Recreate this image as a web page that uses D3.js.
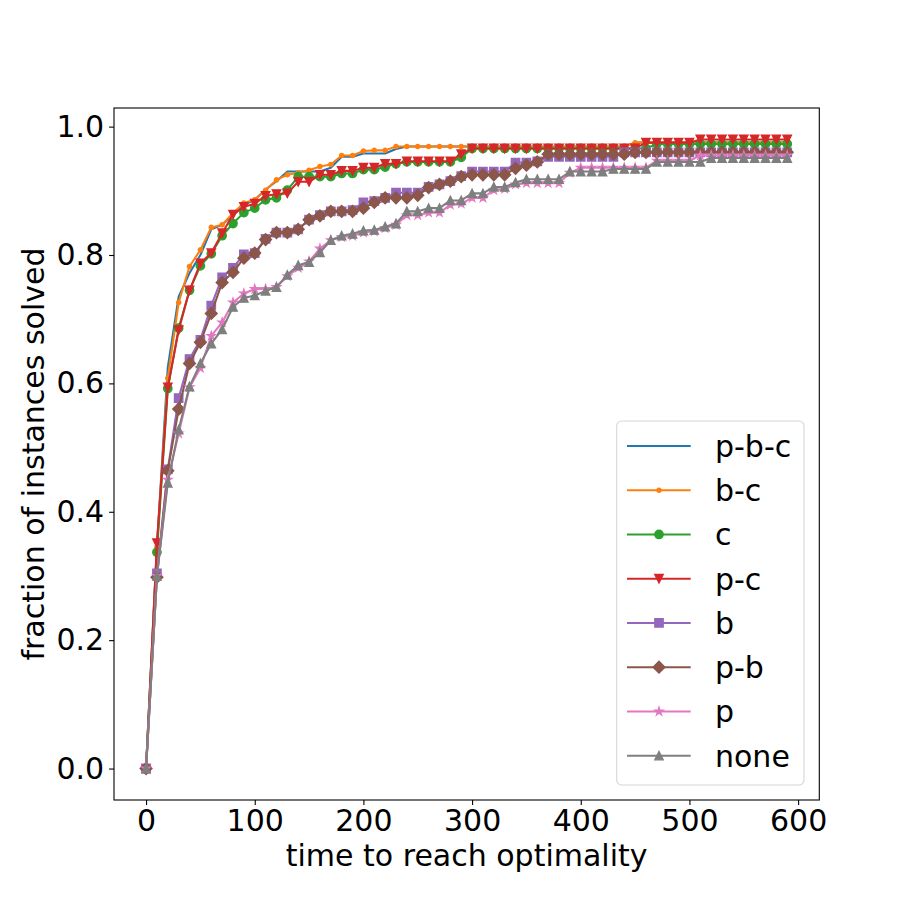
<!DOCTYPE html>
<html>
<head>
<meta charset="utf-8">
<script src="https://cdn.jsdelivr.net/npm/d3@7"></script>
<style>
  body { margin: 0; background: #fff; }
  text { font-family: "DejaVu Sans", sans-serif; }
</style>
</head>
<body>
<div id="myChart"></div>
<script>
let svgW = 910;
let svgH = 899;

// time points (x)
const times = [
  0, 10, 20, 30, 40, 50, 60, 70, 80, 90,
  100, 110, 120, 130, 140, 150, 160, 170, 180, 190,
  200, 210, 220, 230, 240, 250, 260, 270, 280, 290,
  300, 310, 320, 330, 340, 350, 360, 370, 380, 390,
  400, 410, 420, 430, 440, 450, 460, 470, 480, 490,
  500, 510, 520, 530, 540, 550, 560, 570, 580, 590
];

const pbc = [
  0, 0.345, 0.625, 0.735, 0.772, 0.800, 0.840, 0.847, 0.862, 0.878,
  0.886, 0.902, 0.915, 0.930, 0.930, 0.930, 0.930, 0.936, 0.953, 0.953,
  0.958, 0.958, 0.958, 0.965, 0.969, 0.969, 0.969, 0.969, 0.969, 0.969,
  0.969, 0.969, 0.969, 0.969, 0.969, 0.969, 0.969, 0.969, 0.969, 0.969,
  0.969, 0.969, 0.969, 0.969, 0.969, 0.975, 0.975, 0.975, 0.975, 0.975,
  0.975, 0.975, 0.975, 0.975, 0.975, 0.975, 0.975, 0.975, 0.975, 0.975
];
const bc = [
  0, 0.345, 0.608, 0.726, 0.782, 0.808, 0.843, 0.847, 0.865, 0.881,
  0.886, 0.901, 0.917, 0.925, 0.928, 0.932, 0.938, 0.941, 0.955, 0.955,
  0.962, 0.963, 0.963, 0.969, 0.969, 0.969, 0.969, 0.969, 0.969, 0.969,
  0.969, 0.969, 0.969, 0.969, 0.969, 0.969, 0.969, 0.969, 0.969, 0.969,
  0.969, 0.969, 0.969, 0.969, 0.969, 0.975, 0.975, 0.975, 0.975, 0.975,
  0.975, 0.975, 0.975, 0.975, 0.975, 0.975, 0.975, 0.975, 0.975, 0.975
];
const c = [
  0, 0.337, 0.592, 0.686, 0.745, 0.783, 0.802, 0.830, 0.849, 0.866,
  0.873, 0.886, 0.889, 0.901, 0.922, 0.922, 0.922, 0.922, 0.927, 0.927,
  0.933, 0.933, 0.937, 0.942, 0.945, 0.945, 0.945, 0.945, 0.945, 0.952,
  0.966, 0.966, 0.966, 0.966, 0.966, 0.966, 0.966, 0.966, 0.966, 0.966,
  0.966, 0.966, 0.966, 0.966, 0.966, 0.966, 0.966, 0.973, 0.973, 0.973,
  0.973, 0.973, 0.973, 0.973, 0.973, 0.973, 0.973, 0.973, 0.973, 0.973
];
const pc = [
  0, 0.351, 0.594, 0.683, 0.745, 0.787, 0.803, 0.834, 0.863, 0.875,
  0.880, 0.892, 0.895, 0.896, 0.914, 0.914, 0.925, 0.925, 0.931, 0.931,
  0.936, 0.936, 0.942, 0.942, 0.946, 0.946, 0.946, 0.946, 0.946, 0.957,
  0.966, 0.966, 0.966, 0.966, 0.966, 0.966, 0.966, 0.966, 0.966, 0.966,
  0.966, 0.966, 0.966, 0.966, 0.966, 0.966, 0.975, 0.975, 0.975, 0.975,
  0.975, 0.980, 0.980, 0.980, 0.980, 0.980, 0.980, 0.980, 0.980, 0.980
];
const b = [
  0, 0.304, 0.466, 0.577, 0.638, 0.668, 0.721, 0.765, 0.780, 0.801,
  0.803, 0.825, 0.835, 0.835, 0.840, 0.855, 0.862, 0.868, 0.868, 0.870,
  0.882, 0.884, 0.889, 0.897, 0.897, 0.897, 0.906, 0.910, 0.915, 0.923,
  0.930, 0.930, 0.930, 0.930, 0.944, 0.944, 0.946, 0.953, 0.953, 0.953,
  0.953, 0.953, 0.953, 0.953, 0.960, 0.960, 0.960, 0.960, 0.960, 0.960,
  0.960, 0.960, 0.960, 0.960, 0.960, 0.960, 0.960, 0.960, 0.960, 0.960
];
const pb = [
  0, 0.298, 0.464, 0.560, 0.631, 0.664, 0.709, 0.757, 0.773, 0.795,
  0.803, 0.824, 0.835, 0.835, 0.840, 0.855, 0.861, 0.868, 0.868, 0.868,
  0.873, 0.882, 0.889, 0.889, 0.889, 0.893, 0.905, 0.910, 0.915, 0.922,
  0.925, 0.925, 0.925, 0.925, 0.935, 0.940, 0.945, 0.957, 0.957, 0.957,
  0.957, 0.957, 0.957, 0.957, 0.957, 0.960, 0.960, 0.960, 0.960, 0.960,
  0.960, 0.960, 0.960, 0.960, 0.960, 0.960, 0.960, 0.960, 0.960, 0.960
];
const p = [
  0, 0.300, 0.450, 0.522, 0.594, 0.624, 0.674, 0.695, 0.726, 0.740,
  0.747, 0.747, 0.750, 0.767, 0.780, 0.790, 0.810, 0.823, 0.828, 0.830,
  0.835, 0.837, 0.842, 0.847, 0.862, 0.862, 0.866, 0.866, 0.878, 0.880,
  0.889, 0.889, 0.901, 0.903, 0.910, 0.912, 0.912, 0.912, 0.912, 0.928,
  0.936, 0.936, 0.936, 0.936, 0.936, 0.936, 0.936, 0.947, 0.947, 0.947,
  0.947, 0.955, 0.955, 0.955, 0.955, 0.955, 0.955, 0.955, 0.955, 0.955
];
const none = [
  0, 0.300, 0.445, 0.528, 0.595, 0.631, 0.662, 0.684, 0.719, 0.733,
  0.737, 0.744, 0.750, 0.769, 0.784, 0.789, 0.804, 0.823, 0.830, 0.833,
  0.838, 0.839, 0.844, 0.849, 0.868, 0.868, 0.873, 0.873, 0.885, 0.885,
  0.896, 0.896, 0.906, 0.906, 0.913, 0.918, 0.918, 0.918, 0.918, 0.930,
  0.930, 0.930, 0.930, 0.934, 0.934, 0.934, 0.934, 0.945, 0.945, 0.945,
  0.945, 0.945, 0.951, 0.951, 0.951, 0.951, 0.951, 0.951, 0.951, 0.951
];

const labels = ["p-b-c", "b-c", "c", "p-c", "b", "p-b", "p", "none"];
const colors = ["#1f77b4", "#ff7f0e", "#2ca02c", "#d62728", "#9467bd", "#8c564b", "#e377c2", "#7f7f7f"];
const markers = ["none", "point", "circle", "tri_down", "square", "diamond", "star", "tri_up"];
const allSeries = [pbc, bc, c, pc, b, pb, p, none];

const xTicks = [0, 100, 200, 300, 400, 500, 600];
const yTicks = [0.0, 0.2, 0.4, 0.6, 0.8, 1.0];

const axL = 114, axR = 819.3, axT = 108, axB = 800;
const fs = 30;

let svg = d3.select("#myChart").append("svg");
svg.attr("width", svgW);
svg.attr("height", svgH);

// matplotlib-like 5% margins
let xMin = d3.min(times), xMax = d3.max(times);
let xPad = (xMax - xMin) * 0.05;
let yMax = d3.max(allSeries.map(s => d3.max(s)));
let yPad = yMax * 0.05;

let x = d3.scaleLinear().domain([xMin - xPad, xMax + xPad]).range([axL, axR]);
let y = d3.scaleLinear().domain([-yPad, yMax + yPad]).range([axB, axT]);

// marker paths, size in px (6pt at 100dpi)
const ms = 8.33;
function markerPath(kind) {
  let h = ms / 2;
  if (kind == "point") return d3.arc()({innerRadius: 0, outerRadius: h / 2, startAngle: 0, endAngle: 2 * Math.PI});
  if (kind == "circle") return d3.arc()({innerRadius: 0, outerRadius: h, startAngle: 0, endAngle: 2 * Math.PI});
  if (kind == "tri_down") return `M0,${h}L${-h},${-h}L${h},${-h}Z`;
  if (kind == "tri_up") return `M0,${-h}L${-h},${h}L${h},${h}Z`;
  if (kind == "square") return `M${-h},${-h}L${h},${-h}L${h},${h}L${-h},${h}Z`;
  if (kind == "diamond") {
    let d = h * Math.SQRT2;
    return `M0,${-d}L${d},0L0,${d}L${-d},0Z`;
  }
  if (kind == "star") {
    let pts = [];
    for (let i = 0; i < 10; i++) {
      let r = i % 2 == 0 ? h : h * 0.381966;
      let a = -Math.PI / 2 + i * Math.PI / 5;
      pts.push([r * Math.cos(a), r * Math.sin(a)]);
    }
    return "M" + pts.map(q => q.join(",")).join("L") + "Z";
  }
  return null;
}

let plot = svg.append("g");
plot.append("clipPath").attr("id", "clip")
  .append("rect")
  .attr("x", axL).attr("y", axT)
  .attr("width", axR - axL).attr("height", axB - axT);

let line = d3.line()
  .x((d, i) => x(times[i]))
  .y(d => y(d));

allSeries.forEach((s, si) => {
  let g = plot.append("g").attr("clip-path", "url(#clip)");
  g.append("path")
    .datum(s)
    .attr("fill", "none")
    .attr("stroke", colors[si])
    .attr("stroke-width", 2.08)
    .attr("stroke-linejoin", "round")
    .attr("stroke-linecap", "square")
    .attr("d", line);

  let mp = markerPath(markers[si]);
  if (mp) {
    g.selectAll(null)
      .data(s)
      .enter()
      .append("path")
      .attr("d", mp)
      .attr("transform", (d, i) => `translate(${x(times[i])},${y(d)})`)
      .attr("fill", colors[si])
      .attr("stroke", colors[si])
      .attr("stroke-width", 1.39)
      .attr("stroke-linejoin", "miter");
  }
});

// axes
let xAxis = svg.append("g")
  .attr("transform", `translate(0,${axB})`)
  .call(d3.axisBottom(x).tickValues(xTicks).tickSize(4.9).tickPadding(4.9).tickFormat(d3.format("d")));
let yAxis = svg.append("g")
  .attr("transform", `translate(${axL},0)`)
  .call(d3.axisLeft(y).tickValues(yTicks).tickSize(4.9).tickPadding(4.9).tickFormat(d3.format(".1f")));

[xAxis, yAxis].forEach(ax => {
  ax.select(".domain").remove();
  ax.selectAll(".tick line").attr("stroke", "#000").attr("stroke-width", 1.1);
  ax.selectAll(".tick text")
    .attr("fill", "#000")
    .style("font-family", "DejaVu Sans")
    .style("font-size", fs + "px");
});

// frame
svg.append("rect")
  .attr("x", axL).attr("y", axT)
  .attr("width", axR - axL).attr("height", axB - axT)
  .attr("fill", "none")
  .attr("stroke", "#000")
  .attr("stroke-width", 1.1);

svg.append("text")
  .attr("x", (axL + axR) / 2)
  .attr("y", 866)
  .attr("text-anchor", "middle")
  .style("font-size", fs + "px")
  .text("time to reach optimality");

svg.append("text")
  .attr("transform", `translate(44,${(axT + axB) / 2}) rotate(-90)`)
  .attr("text-anchor", "middle")
  .style("font-size", fs + "px")
  .text("fraction of instances solved");

// legend
let lg = svg.append("g");
lg.append("rect")
  .attr("x", 616.7).attr("y", 421)
  .attr("width", 187.3).attr("height", 364)
  .attr("rx", 5).attr("ry", 5)
  .attr("fill", "#fff").attr("fill-opacity", 0.8)
  .attr("stroke", "#d6d6d6")
  .attr("stroke-width", 1.1);

labels.forEach((lab, i) => {
  let ly = 446 + i * 44.24;
  lg.append("line")
    .attr("x1", 627).attr("x2", 690.7)
    .attr("y1", ly).attr("y2", ly)
    .attr("stroke", colors[i])
    .attr("stroke-width", 2.08);
  let mp = markerPath(markers[i]);
  if (mp) {
    lg.append("path")
      .attr("d", mp)
      .attr("transform", `translate(659,${ly})`)
      .attr("fill", colors[i])
      .attr("stroke", colors[i])
      .attr("stroke-width", 1.39);
  }
  lg.append("text")
    .attr("x", 715)
    .attr("y", ly + 11)
    .style("font-size", fs + "px")
    .text(lab);
});
</script>
</body>
</html>
